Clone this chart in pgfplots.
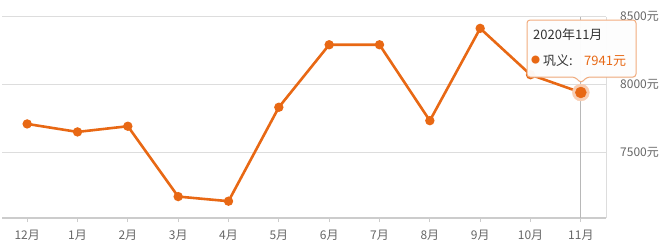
\documentclass[border=0pt]{standalone}
\usepackage{fontspec}
\setmainfont{Noto Sans CJK SC}
\usepackage{pgfplots}
\pgfplotsset{compat=1.18}
\usetikzlibrary{shadows}
\definecolor{lineor}{RGB}{232,104,20}
\definecolor{halo}{RGB}{248,205,178}
\definecolor{txtgray}{RGB}{102,102,102}
\definecolor{gridgray}{RGB}{221,221,221}
\definecolor{axgray}{RGB}{204,204,204}
\begin{document}
\begin{tikzpicture}[x=1bp,y=1bp]
\useasboundingbox (0,0) rectangle (662,247);
\begin{axis}[
  at={(2bp,29bp)}, anchor=south west,
  scale only axis, width=604bp, height=201.3bp,
  xmin=-0.5, xmax=11.5, ymin=7015, ymax=8500,
  axis x line*=bottom, axis y line*=right,
  x axis line style={axgray, line width=1.6bp, -},
  y axis line style={gridgray, line width=0.8bp, -},
  xtick={0,...,11},
  xticklabels={12月,1月,2月,3月,4月,5月,6月,7月,8月,9月,10月,11月},
  ytick={7500,8000,8500},
  yticklabels={7500元,8000元,8500元},
  ymajorgrids, grid style={gridgray, line width=0.8bp},
  major tick length=4bp,
  xtick style={axgray, line width=0.8bp},
  x tick style={draw=axgray},
  ytick style={draw=none},
  tick align=outside,
  tick label style={font=\fontsize{12bp}{14bp}\selectfont, text=txtgray, inner sep=0pt},
  xticklabel style={anchor=north, yshift=-8bp},
  yticklabel style={anchor=west, xshift=10bp},
  clip=false,
]
\addplot[color=axgray!90!black, line width=0.8bp, mark=none] coordinates {(11,7015) (11,8500)};
\addplot[color=lineor, line width=2.6bp, mark=*, mark size=3.3bp, mark options={fill=lineor, draw=lineor}] coordinates {
(0,7709) (1,7650) (2,7692) (3,7173) (4,7139) (5,7832) (6,8293) (7,8293) (8,7733) (9,8414) (10,8072) (11,7941)
};
\addplot[color=halo, only marks, mark=*, mark size=8.5bp, mark options={draw=halo, fill=halo}] coordinates {(11,7941)};
\addplot[color=lineor, only marks, mark=*, mark size=5.5bp, mark options={draw=lineor, fill=lineor}] coordinates {(11,7941)};
\end{axis}
% tooltip
\draw[draw=lineor!55, fill=white, fill opacity=0.95, line width=1bp, rounded corners=3bp,
  drop shadow={opacity=0.12, shadow xshift=0bp, shadow yshift=-1bp}]
  (527,227) -- (636,227) -- (636,170) -- (587,170) -- (581,164) -- (575,170) -- (527,170) -- cycle;
\node[anchor=west, inner sep=0pt, text=black!80, font=\fontsize{13bp}{15bp}\selectfont] at (533,212) {2020年11月};
\node[anchor=west, inner sep=0pt, text=lineor, font=\fontsize{9bp}{10bp}\selectfont] at (531,186.5) {●};
\node[anchor=west, inner sep=0pt, text=black!80, font=\fontsize{13bp}{15bp}\selectfont] at (543,186) {巩义:};
\node[anchor=west, inner sep=0pt, text=lineor, font=\fontsize{13bp}{15bp}\selectfont] at (584,186) {7941元};
\end{tikzpicture}
\end{document}
